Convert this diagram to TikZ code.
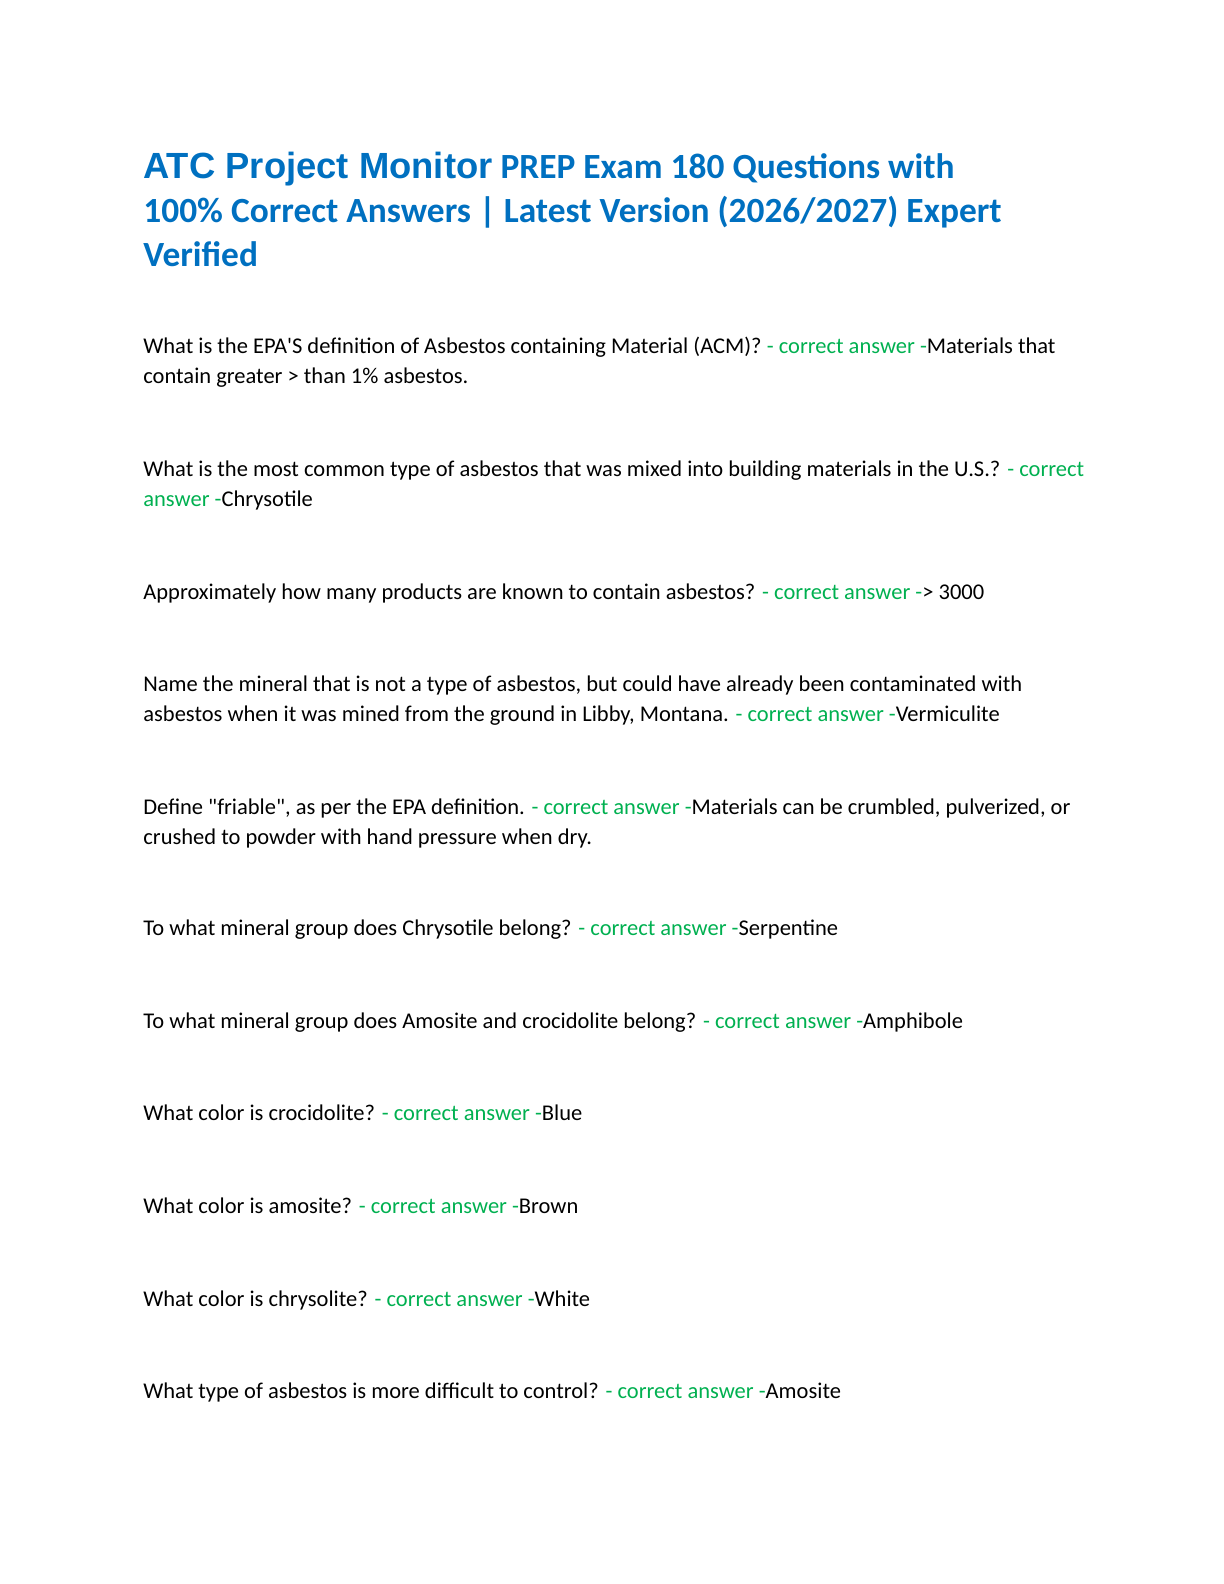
\documentclass[tikz,border=0pt]{standalone}
\usepackage{fontspec}
\setmainfont{Carlito}
\newfontfamily\arialf{Liberation Sans}
\definecolor{tblue}{HTML}{0070C0}
\definecolor{agreen}{HTML}{00B050}
\newcommand{\ca}{\textcolor{agreen}{- correct answer -}}
\begin{document}
\begin{tikzpicture}[x=1pt,y=1pt,
  para/.style={anchor=base west,inner sep=0pt,align=left,font=\fontsize{11.25}{15}\selectfont},
  ttl/.style={anchor=base west,inner sep=0pt,align=left,text=tblue,font=\fontsize{17.7}{22}\selectfont\bfseries}]
\useasboundingbox (0,0) rectangle (612,-792);
\node[ttl] (t) at (71.5,-133) {{\arialf\fontsize{18.2}{22}\selectfont ATC Project Monitor} PREP Exam 180 Questions with\\100\% Correct Answers | Latest Version (2026/2027) Expert\\Verified};
\node[para] (q1) at (71.5,-191.5) {What is the EPA\textquotesingle S definition of Asbestos containing Material (ACM)? \ca Materials that\\contain greater > than 1\% asbestos.};
\node[para] (q2) at (71.5,-253) {What is the most common type of asbestos that was mixed into building materials in the U.S.? \textcolor{agreen}{- correct}\\\textcolor{agreen}{answer -}Chrysotile};
\node[para] (q3) at (71.5,-299.5) {Approximately how many products are known to contain asbestos? \ca> 3000};
\node[para] (q4) at (71.5,-360.5) {Name the mineral that is not a type of asbestos, but could have already been contaminated with\\asbestos when it was mined from the ground in Libby, Montana. \ca Vermiculite};
\node[para] (q5) at (71.5,-422) {Define \textquotedbl friable\textquotedbl, as per the EPA definition. \ca Materials can be crumbled, pulverized, or\\crushed to powder with hand pressure when dry.};
\node[para] (q6) at (71.5,-467.5) {To what mineral group does Chrysotile belong? \ca Serpentine};
\node[para] (q7) at (71.5,-514) {To what mineral group does Amosite and crocidolite belong? \ca Amphibole};
\node[para] (q8) at (71.5,-560) {What color is crocidolite? \ca Blue};
\node[para] (q9) at (71.5,-606.5) {What color is amosite? \ca Brown};
\node[para] (q10) at (71.5,-653) {What color is chrysolite? \ca White};
\node[para] (q11) at (71.5,-699) {What type of asbestos is more difficult to control? \ca Amosite};
\end{tikzpicture}
\end{document}
